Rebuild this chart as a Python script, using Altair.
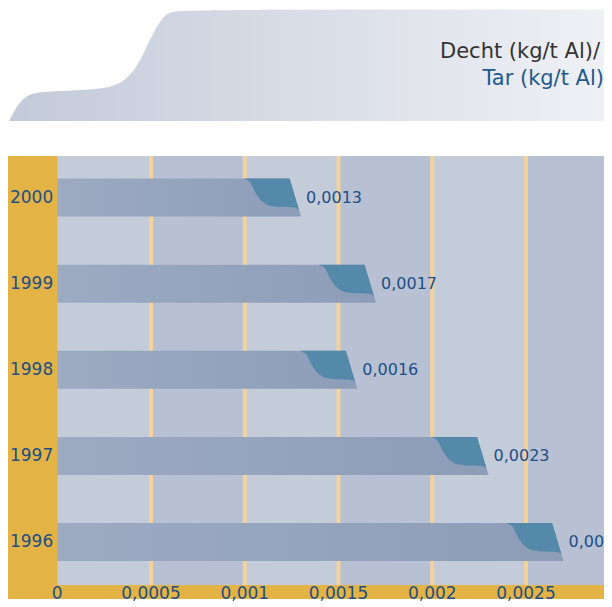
import altair as alt
import pandas as pd

# ---------------- data ----------------
years = [2000, 1999, 1998, 1997, 1996]
values = [0.0013, 0.0017, 0.0016, 0.0023, 0.0027]
tick_values = [0, 0.0005, 0.001, 0.0015, 0.002, 0.0025]
tick_labels = ["0", "0,0005", "0,001", "0,0015", "0,002", "0,0025"]
title_lines = ["Decht (kg/t Al)/", "Tar (kg/t Al)"]

# decorative header profile (page pixels)
header_x = [9, 20, 33, 60, 90, 110, 123, 133, 142, 148, 155, 162, 170, 183, 612]
header_y = [121, 100, 92, 91, 89.5, 87.5, 82, 72, 58, 43, 30, 18, 12, 9.5, 9.5]

# ---------------- layout / style ----------------
FONT = "DejaVu Sans"
BLUE = "#1e4f86"
YELLOW = "#e3b345"
BAND_LIGHT = "#c4cbd9"
BAND_DARK = "#b8c1d3"
GRID = "#f4d39b"
DARK = "#5589aa"

W = 596
H_HEAD = 148
H_MAIN = 443
PX_X = 187500.0          # pixels per kg/t
X0_PX = 49.25            # pixel position of zero inside the main chart
X_MIN = -X0_PX / PX_X
X_MAX = (W - X0_PX) / PX_X
PX_Y = 86.125            # pixels per year row
Y_TOP = 2000 + 41.5 / PX_Y
Y_BOT = Y_TOP - H_MAIN / PX_Y
Y_PLOT_BOT = 1995.5
HALF = 19.0 / PX_Y       # half bar height in years
BAR_H_PX = 38.0
SLANT_PX = 11.4          # top edge ends this many px before the value

# dark end piece profile: (dy from top in px, dx of left edge from value in px)
dark_dy = [0, 2.3, 7.3, 14, 19, 24, 27.3, 28.6, 29.3, 31.3]
dark_dx = [-57.4, -52.4, -49.1, -45.7, -42.4, -37.4, -30.7, -20.7, -5.7, -2.2]

xs = alt.Scale(domain=[X_MIN, X_MAX], nice=False, zero=False)
ys = alt.Scale(domain=[Y_BOT, Y_TOP], nice=False, zero=False)


def slant(v, dy):
    return v + (-SLANT_PX + SLANT_PX * dy / BAR_H_PX) / PX_X


# background yellow
bg_df = pd.DataFrame({"x": [X_MIN], "x2": [X_MAX], "y": [Y_BOT], "y2": [Y_TOP]})
bg = alt.Chart(bg_df).mark_rect(color=YELLOW).encode(
    x=alt.X("x:Q", scale=xs, axis=None), x2="x2:Q",
    y=alt.Y("y:Q", scale=ys, axis=None), y2="y2:Q")

# alternating bands
band_rows = []
for i in range(7):
    band_rows.append({"x": i * 0.0005, "x2": (i + 1) * 0.0005,
                      "y": Y_PLOT_BOT, "y2": Y_TOP,
                      "c": BAND_LIGHT if i % 2 == 0 else BAND_DARK})
bands = alt.Chart(pd.DataFrame(band_rows)).mark_rect(clip=True).encode(
    x=alt.X("x:Q", scale=xs, axis=None), x2="x2:Q",
    y=alt.Y("y:Q", scale=ys, axis=None), y2="y2:Q",
    color=alt.Color("c:N", scale=None))

# grid rules
grid_df = pd.DataFrame({"x": [0.0005 * k for k in range(1, 7)],
                        "y": Y_PLOT_BOT, "y2": Y_TOP})
grid = alt.Chart(grid_df).mark_rule(color=GRID, strokeWidth=4, clip=True).encode(
    x=alt.X("x:Q", scale=xs, axis=None),
    y=alt.Y("y:Q", scale=ys, axis=None), y2="y2:Q")

# light bars (with slanted end)
bar_rows = []
for yr, v in zip(years, values):
    for dy in (0.0, BAR_H_PX):
        bar_rows.append({"year": yr, "y": yr + HALF - dy / PX_Y,
                         "x": 0.0, "x2": slant(v, dy)})
bar_grad = alt.Gradient(gradient="linear",
                        stops=[alt.GradientStop(color="#9cabc2", offset=0),
                               alt.GradientStop(color="#8d9db8", offset=1)],
                        x1=0, x2=1, y1=0, y2=0)
bars = alt.Chart(pd.DataFrame(bar_rows)).mark_area(
    orient="horizontal", color=bar_grad).encode(
    y=alt.Y("y:Q", scale=ys, axis=None),
    x=alt.X("x:Q", scale=xs, axis=None, stack=None), x2="x2:Q",
    detail="year:N")

# dark end pieces
dark_rows = []
for yr, v in zip(years, values):
    for dy, dx in zip(dark_dy, dark_dx):
        dark_rows.append({"year": yr, "y": yr + HALF - dy / PX_Y,
                          "x": v + dx / PX_X, "x2": slant(v, dy)})
dark = alt.Chart(pd.DataFrame(dark_rows)).mark_area(
    orient="horizontal", color=DARK, interpolate="monotone").encode(
    y=alt.Y("y:Q", scale=ys, axis=None),
    x=alt.X("x:Q", scale=xs, axis=None, stack=None), x2="x2:Q",
    detail="year:N")

# value labels
lab_df = pd.DataFrame({"year": years, "v": values,
                       "lab": [f"{v:.4f}".replace(".", ",") for v in values]})
val_labels = alt.Chart(lab_df).mark_text(
    align="left", baseline="middle", font=FONT, fontSize=16, color=BLUE, dx=5,
    clip=True
).encode(x=alt.X("v:Q", scale=xs, axis=None),
         y=alt.Y("year:Q", scale=ys, axis=None), text="lab:N")

# year labels
yr_df = pd.DataFrame({"year": years, "x": 0.0, "lab": [str(y) for y in years]})
yr_labels = alt.Chart(yr_df).mark_text(
    align="right", baseline="middle", font=FONT, fontSize=17, color=BLUE, dx=-4
).encode(x=alt.X("x:Q", scale=xs, axis=None),
         y=alt.Y("year:Q", scale=ys, axis=None), text="lab:N")

# x tick labels
tk_df = pd.DataFrame({"x": tick_values, "y": Y_TOP - 442.5 / PX_Y, "lab": tick_labels})
tk_labels = alt.Chart(tk_df).mark_text(
    align="center", baseline="alphabetic", font=FONT, fontSize=17, color=BLUE
).encode(x=alt.X("x:Q", scale=xs, axis=None),
         y=alt.Y("y:Q", scale=ys, axis=None), text="lab:N")

main = alt.layer(bg, bands, grid, bars, dark, val_labels, yr_labels, tk_labels
                 ).properties(width=W, height=H_MAIN)

# ---------------- header ----------------
hxs = alt.Scale(domain=[8, 8 + W], nice=False, zero=False)
hys = alt.Scale(domain=[8, 8 + H_HEAD], nice=False, zero=False, reverse=True)
head_df = pd.DataFrame({"x": header_x, "y": header_y, "y2": 121})
head_grad = alt.Gradient(gradient="linear",
                         stops=[alt.GradientStop(color="#c3cad9", offset=0),
                                alt.GradientStop(color="#eff1f5", offset=1)],
                         x1=0, x2=1, y1=0, y2=0)
head_shape = alt.Chart(head_df).mark_area(
    color=head_grad, interpolate="basis", clip=True).encode(
    x=alt.X("x:Q", scale=hxs, axis=None),
    y=alt.Y("y:Q", scale=hys, axis=None, stack=None), y2="y2:Q")
title_df = pd.DataFrame({"x": [600, 604], "y": [58, 85], "t": title_lines,
                         "c": ["#333333", "#1f5a8c"]})
head_text = alt.Chart(title_df).mark_text(
    align="right", baseline="alphabetic", font=FONT, fontSize=21).encode(
    x=alt.X("x:Q", scale=hxs, axis=None),
    y=alt.Y("y:Q", scale=hys, axis=None),
    text="t:N", color=alt.Color("c:N", scale=None))
header = alt.layer(head_shape, head_text).properties(width=W, height=H_HEAD)

chart = alt.vconcat(header, main, spacing=0).properties(
    padding=0
).configure_view(stroke=None)

chart.save("out.html", embed_options={"renderer": "svg", "actions": False})
